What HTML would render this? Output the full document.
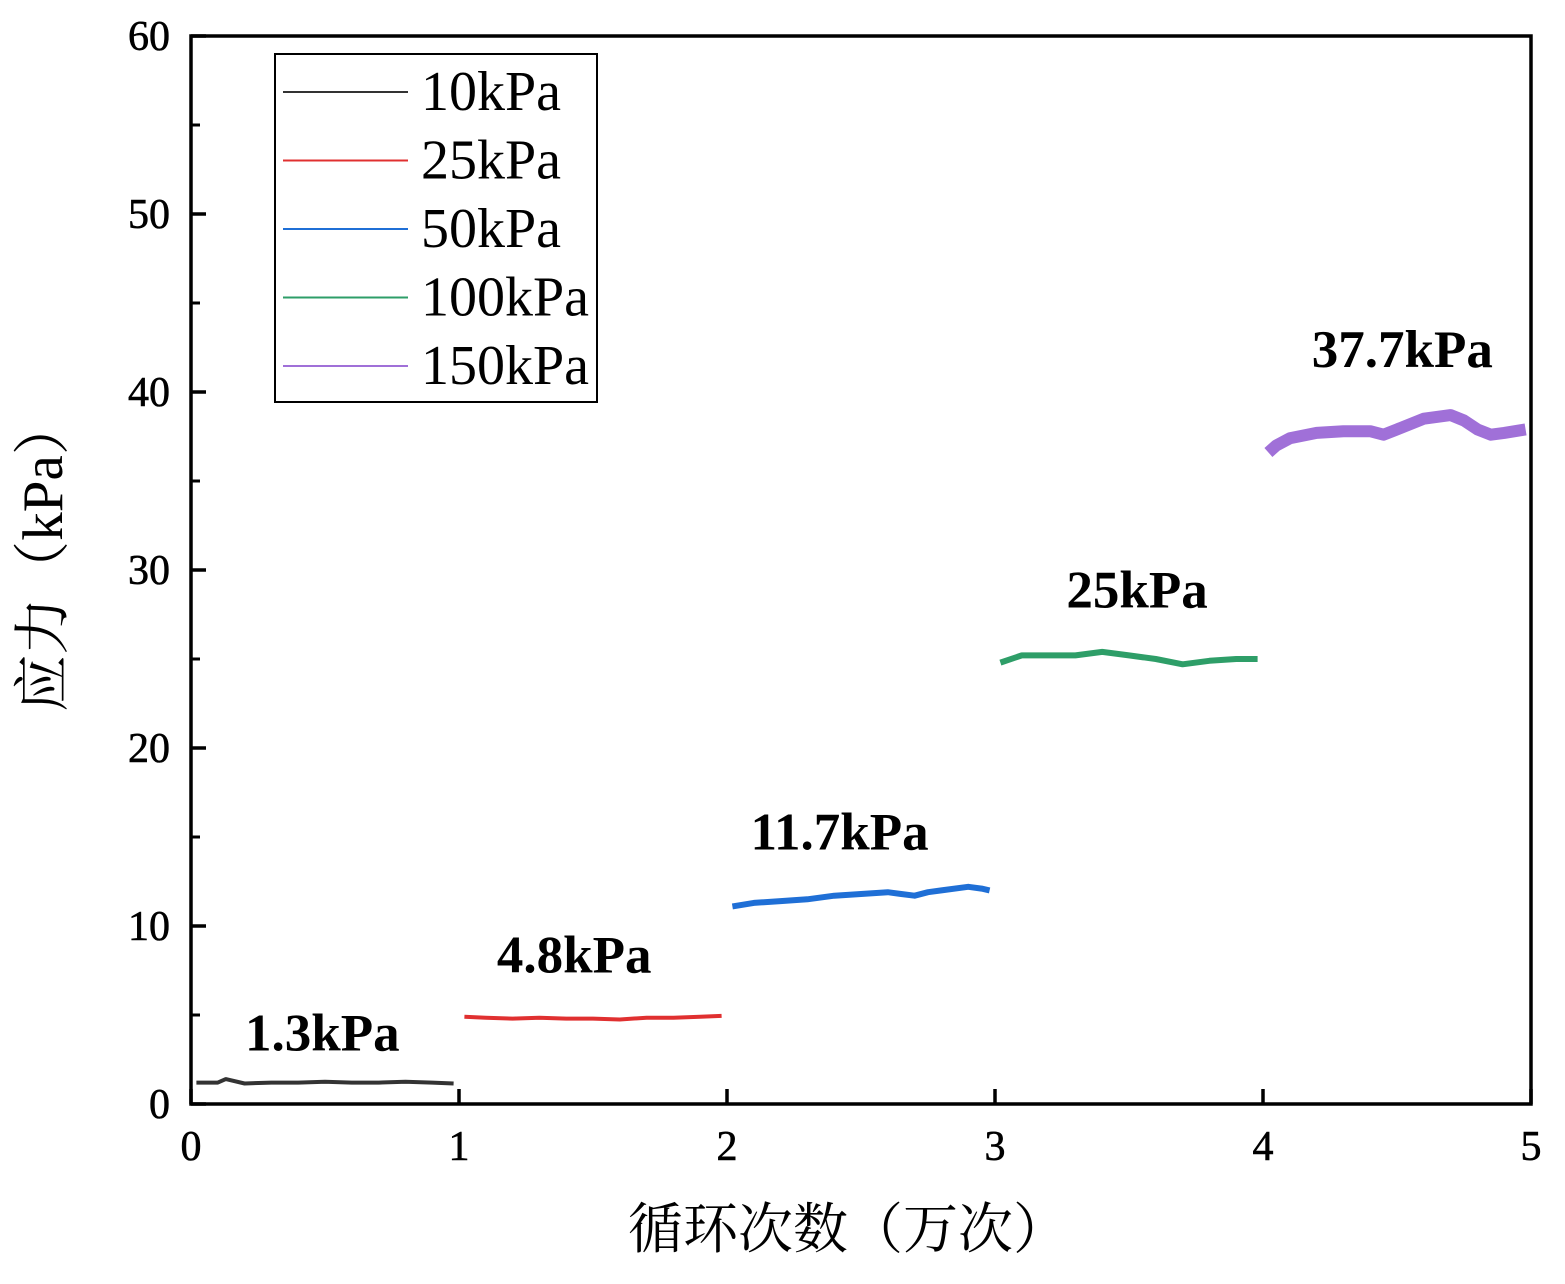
<!DOCTYPE html>
<html><head><meta charset="utf-8">
<style>
html,body{margin:0;padding:0;background:#fff;}
svg{display:block;}
text{font-family:"Liberation Serif","Noto Serif CJK SC",serif;}
</style></head>
<body>
<svg id="chart" width="1565" height="1284" xmlns="http://www.w3.org/2000/svg"></svg>
<script>
const xTicks=[0,1,2,3,4,5];
const yTicks=[0,10,20,30,40,50,60];
const seriesNames=["10kPa","25kPa","50kPa","100kPa","150kPa"];
const seriesColors=["#333333","#e03030","#1f6fd6","#2e9e68","#a070d8"];
const s1x=[0.02,0.1,0.13,0.2,0.3,0.4,0.5,0.6,0.7,0.8,0.9,0.98];
const s1y=[1.2,1.2,1.4,1.15,1.2,1.2,1.25,1.2,1.2,1.25,1.2,1.15];
const s2x=[1.02,1.1,1.2,1.3,1.4,1.5,1.6,1.7,1.8,1.9,1.98];
const s2y=[4.9,4.85,4.8,4.85,4.8,4.8,4.75,4.85,4.85,4.9,4.95];
const s3x=[2.02,2.1,2.2,2.3,2.4,2.5,2.6,2.65,2.7,2.75,2.8,2.9,2.95,2.98];
const s3y=[11.1,11.3,11.4,11.5,11.7,11.8,11.9,11.8,11.7,11.9,12.0,12.2,12.1,12.0];
const s4x=[3.02,3.1,3.2,3.3,3.4,3.5,3.6,3.7,3.8,3.9,3.98];
const s4y=[24.8,25.2,25.2,25.2,25.4,25.2,25.0,24.7,24.9,25.0,25.0];
const s5x=[4.02,4.05,4.1,4.2,4.3,4.4,4.45,4.5,4.6,4.7,4.75,4.8,4.85,4.9,4.98];
const s5y=[36.6,37.0,37.4,37.7,37.8,37.8,37.6,37.9,38.5,38.7,38.4,37.9,37.6,37.7,37.9];
const seriesX=[s1x,s2x,s3x,s4x,s5x];
const seriesY=[s1y,s2y,s3y,s4y,s5y];
const widths=[4,4,6,6,12];
const annoText=["1.3kPa","4.8kPa","11.7kPa","25kPa","37.7kPa"];
const annoX=[0.49,1.43,2.42,3.53,4.52];
const annoY=[3.0,7.4,14.3,27.9,41.4];

const L=191,R=1531,T=36,B=1104;
const sx=v=>L+(v-0)/(5-0)*(R-L);
const sy=v=>B-(v-0)/(60-0)*(B-T);
const svg=document.getElementById('chart');
const NS="http://www.w3.org/2000/svg";
function mk(tag,attrs,parent){const e=document.createElementNS(NS,tag);for(const k in attrs)e.setAttribute(k,attrs[k]);(parent||svg).appendChild(e);return e;}

seriesX.forEach((xs,i)=>{
  const pts=xs.map((x,j)=>sx(x).toFixed(1)+","+sy(seriesY[i][j]).toFixed(1)).join(" ");
  const pl=mk('polyline',{points:pts,fill:'none',stroke:seriesColors[i],'stroke-width':widths[i],'stroke-linejoin':'round'});
  
  
  const t=mk('text',{x:sx(annoX[i]),y:sy(annoY[i]),'font-size':53,'font-weight':'bold','text-anchor':'middle'});
  t.textContent=annoText[i];
  
  
});

const fr=mk('rect',{x:L,y:T,width:R-L,height:B-T,fill:'none',stroke:'#000','stroke-width':3.5});



xTicks.forEach(v=>{
  mk('line',{x1:sx(v),x2:sx(v),y1:B,y2:B-15,stroke:'#000','stroke-width':3.5});
  const t=mk('text',{x:sx(v),y:1160,'font-size':42,'text-anchor':'middle',stroke:'#000','stroke-width':0.6});
  t.textContent=v;
  
  
});
yTicks.forEach(v=>{
  mk('line',{x1:L,x2:L+15,y1:sy(v),y2:sy(v),stroke:'#000','stroke-width':3.5});
  const t=mk('text',{x:170,y:sy(v)+14,'font-size':42,'text-anchor':'end',stroke:'#000','stroke-width':0.6});
  t.textContent=v;
  
  
});
for(let v=5;v<60;v+=10){mk('line',{x1:L,x2:L+9,y1:sy(v),y2:sy(v),stroke:'#000','stroke-width':3});}

const xt=mk('text',{x:848,y:1248,'font-size':55,'text-anchor':'middle'});
xt.textContent="循环次数（万次）";


const yt=mk('text',{x:0,y:0,'font-size':57,'text-anchor':'middle',transform:'translate(62,555) rotate(-90)'});
yt.textContent="应力（kPa）";



const lg=mk('g',{});


mk('rect',{x:275,y:54,width:322,height:348,fill:'#fff',stroke:'#000','stroke-width':2},lg);
seriesNames.forEach((n,i)=>{
  const y=92+i*68.5;
  mk('line',{x1:283,x2:408,y1:y,y2:y,stroke:seriesColors[i],'stroke-width':2},lg);
  const t=mk('text',{x:421,y:y+18,'font-size':56},lg);
  t.textContent=n;
  
  
});
</script>
</body></html>
